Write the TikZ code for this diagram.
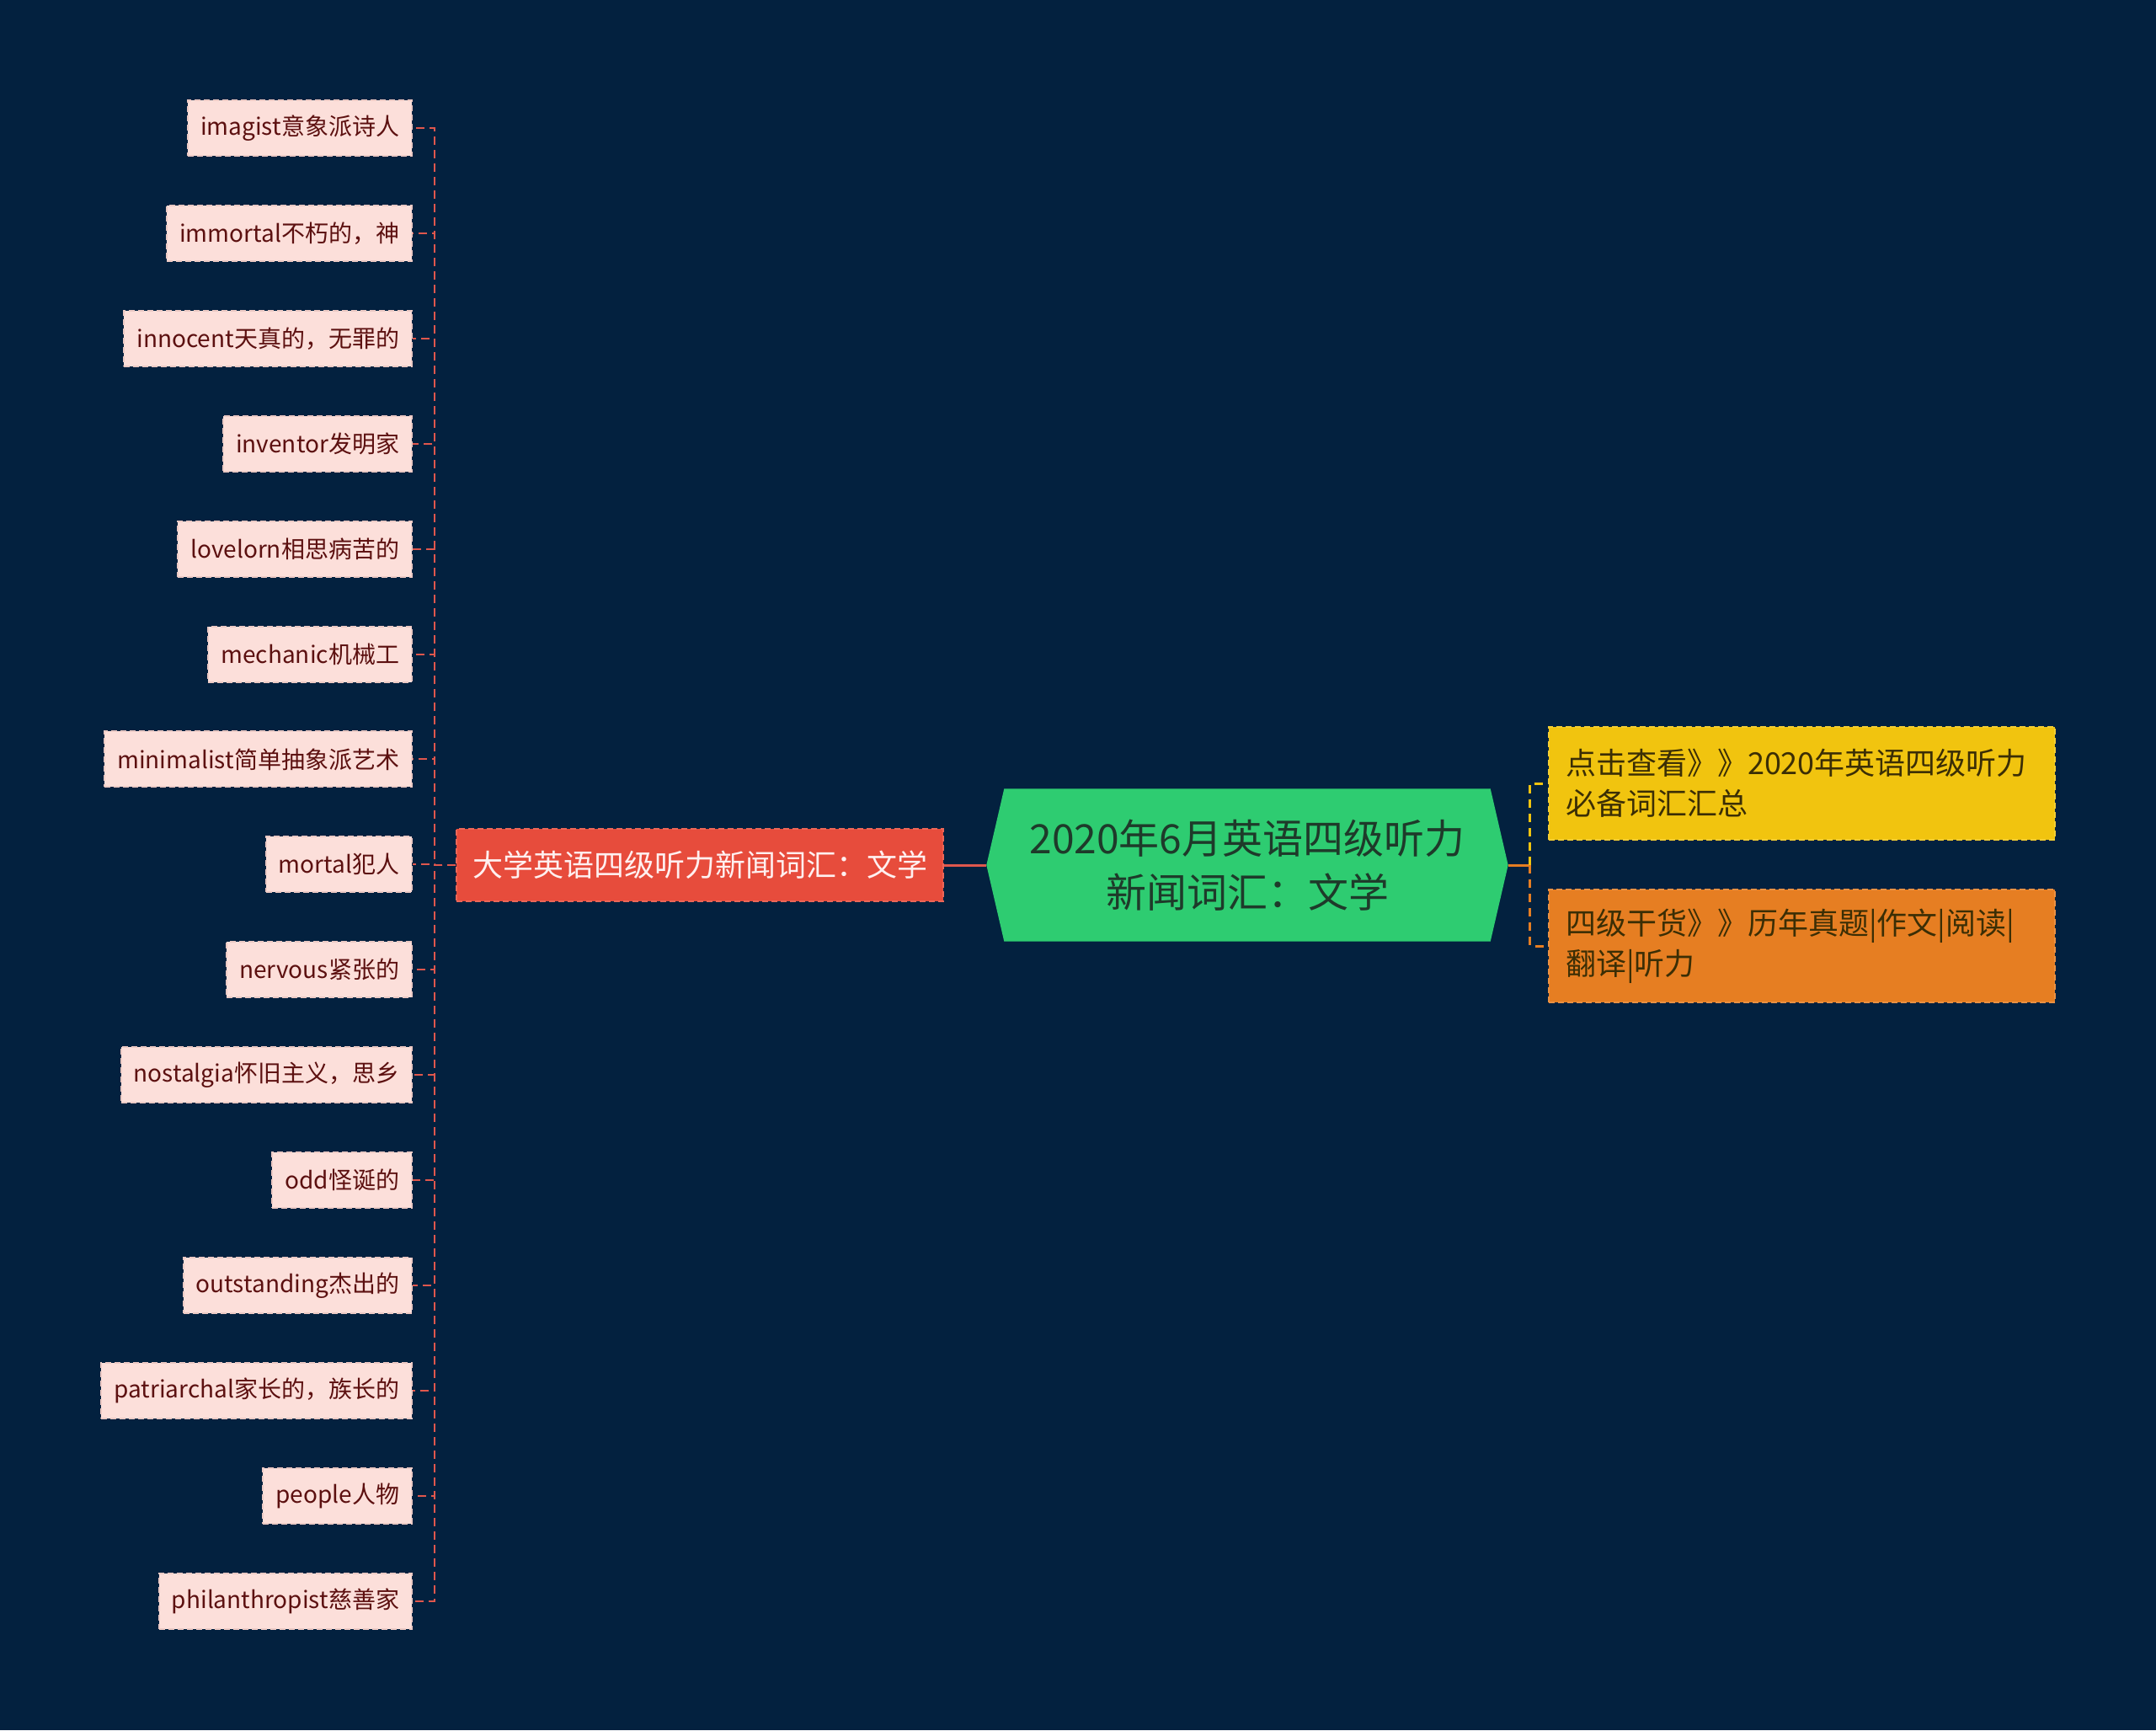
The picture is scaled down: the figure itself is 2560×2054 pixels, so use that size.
\documentclass[tikz,border=0pt]{standalone}
\usepackage{fontspec}
\setmainfont{Noto Sans CJK SC}
\usetikzlibrary{positioning, backgrounds, calc}
\definecolor{bgnavy}{HTML}{03213F}
\definecolor{leaffill}{HTML}{FCDFDA}
\definecolor{leafink}{HTML}{5C1010}
\definecolor{leafedge}{HTML}{EBC9C4}
\definecolor{branchred}{HTML}{E74C3C}
\definecolor{linkred}{HTML}{E0574D}
\definecolor{rootgreen}{HTML}{2ECC71}
\definecolor{rootink}{HTML}{1E3A2A}
\definecolor{tipyellow}{HTML}{F1C40F}
\definecolor{tiporange}{HTML}{E67E22}
\definecolor{tipink}{HTML}{3B2E05}
\tikzset{
    base/.style = {
        line width=2pt, dash pattern=on 7pt off 4pt, inner ysep=0pt
    },
    % Boxes
    leaf/.style   = {base, rectangle, fill=leaffill, draw=leafedge, text=leafink,
        anchor=east, minimum height=66pt, inner xsep=15pt,
        font=\fontsize{28}{34}\selectfont},
    branch/.style = {base, rectangle, fill=branchred, draw=branchred!85!white, text=white!94!red,
        anchor=west, minimum height=86pt, inner xsep=19pt,
        font=\fontsize{36}{44}\selectfont},
    root/.style   = {rectangle, minimum width=619pt, minimum height=181pt, align=center,
        text=rootink, font=\fontsize{48}{64}\selectfont},
    tip/.style    = {base, rectangle, text width=561pt, inner xsep=20pt, minimum height=134pt,
        align=left, text=tipink, anchor=west, font=\fontsize{36}{48}\selectfont},
    % Edges
    leaflink/.style = {linkred, line width=2pt, dash pattern=on 10pt off 6pt},
    rootlink/.style = {linkred, line width=3pt},
    tiplink/.style  = {tiporange, line width=3pt},
    tipdash/.style  = {line width=3pt, dash pattern=on 10pt off 7pt}
}

\begin{document}
\begin{tikzpicture}[x=1pt, y=-1pt]
    \node (root) [root] at (1481,1027) {2020年6月英语四级听力\\新闻词汇：文学};
    \begin{scope}[on background layer]
        \fill[bgnavy] (0,0) rectangle (2560,2054);
        \fill[rootgreen] (root.west) -- ([xshift=21pt]root.north west) -- ([xshift=-21pt]root.north east)
            -- (root.east) -- ([xshift=-21pt]root.south east) -- ([xshift=21pt]root.south west) -- cycle;
    \end{scope}

    \node (branch) [branch] at (541,1027) {大学英语四级听力新闻词汇：文学};

    \foreach \word [count=\i] in {imagist意象派诗人, immortal不朽的，神, innocent天真的，无罪的,
        inventor发明家, lovelorn相思病苦的, mechanic机械工, minimalist简单抽象派艺术, mortal犯人,
        nervous紧张的, nostalgia怀旧主义，思乡, odd怪诞的, outstanding杰出的,
        patriarchal家长的，族长的, people人物, philanthropist慈善家}
        \node (leaf\i) [leaf] at (490,{152+(\i-1)*124.9}) {\word};

    \foreach \i in {1,...,15}
        \draw [leaflink] (branch.west) -- ++(-25,0) |- (leaf\i.east);

    \draw [rootlink] (branch.east) -- (root.west);

    \node (tip1) [tip, fill=tipyellow, draw=tipyellow!85!white] at (1838,930) {点击查看》》2020年英语四级听力\\必备词汇汇总};
    \node (tip2) [tip, fill=tiporange, draw=tiporange!85!white] at (1838,1123) {四级干货》》历年真题|作文|阅读|\\翻译|听力};

    \coordinate (fork) at ($(root.east)+(26,0)$);
    \draw [tiplink] (root.east) -- (fork);
    \draw [tipdash, tipyellow] (fork) |- (tip1.west);
    \draw [tipdash, tiporange] (fork) |- (tip2.west);
\end{tikzpicture}
\end{document}
